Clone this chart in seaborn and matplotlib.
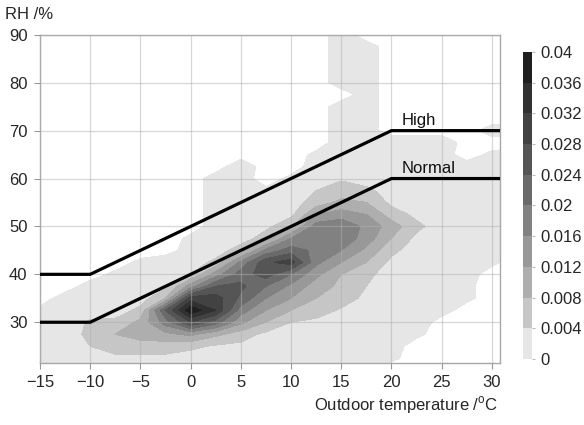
import matplotlib.pyplot as plt
import numpy as np
import pandas as pd
import seaborn as sns
from matplotlib.colors import ListedColormap
from matplotlib.ticker import FuncFormatter

# grid of the density map (outdoor temperature x relative humidity)
TEMPS = [-15, -12.5, -10, -7.5, -5, -2.5, 0, 2.5, 5, 7.5, 10, 12.5, 15, 17.5, 20, 22.5, 25, 27.5, 30, 32.5]
RH_LEVELS = [90, 87.5, 85, 82.5, 80, 77.5, 75, 72.5, 70, 67.5, 65, 62.5, 60, 57.5, 55,
             52.5, 50, 47.5, 45, 42.5, 40, 37.5, 35, 32.5, 30, 27.5, 25, 22.5, 20]

DENSITY_PERMILLE = [
    [0, 0, 0, 0, 0, 0, 0, 0, 0, 0, 0, 0, 2, 0, 0, 0, 0, 0, 0, 0],
    [0, 0, 0, 0, 0, 0, 0, 0, 0, 0, 0, 0, 2, 2, 0, 0, 0, 0, 0, 0],
    [0, 0, 0, 0, 0, 0, 0, 0, 0, 0, 0, 0, 2, 2, 0, 0, 0, 0, 0, 0],
    [0, 0, 0, 0, 0, 0, 0, 0, 0, 0, 0, 0, 2, 2, 0, 0, 0, 0, 0, 0],
    [0, 0, 0, 0, 0, 0, 0, 0, 0, 0, 0, 0, 2, 2, 0, 0, 0, 0, 0, 0],
    [0, 0, 0, 0, 0, 0, 0, 0, 0, 0, 0, 0, 0, 2, 0, 0, 0, 0, 0, 0],
    [0, 0, 0, 0, 0, 0, 0, 0, 0, 0, 0, 0, 2, 2, 0, 0, 0, 0, 0, 0],
    [0, 0, 0, 0, 0, 0, 0, 0, 0, 0, 0, 0, 2, 2, 0, 0, 0, 0, 0, 0],
    [0, 0, 0, 0, 0, 0, 0, 0, 0, 0, 0, 0, 2, 2, 0, 0, 0, 0, 2, 2],
    [0, 0, 0, 0, 0, 0, 0, 0, 0, 0, 0, 0, 2, 2, 3, 3, 3, 0, 0, 0],
    [0, 0, 0, 0, 0, 0, 0, 0, 0, 0, 0, 1, 2, 2, 2, 2, 2, 0, 1, 2],
    [0, 0, 0, 0, 0, 0, 0, 0, 3, 0, 0, 2, 2, 2, 2, 2, 2, 2, 2, 2],
    [0, 0, 0, 0, 0, 0, 0, 2, 2, 0, 1, 3, 3.5, 2, 2, 2, 2, 2, 2, 2],
    [0, 0, 0, 0, 0, 0, 0, 2, 2, 1, 2, 4, 6, 5, 2, 2, 2, 2, 2, 2],
    [0, 0, 0, 0, 0, 0, 0, 2, 2, 2, 2, 6, 9, 8, 3, 2, 2, 2, 2, 2],
    [0, 0, 0, 0, 0, 0, 0, 2, 2, 2, 3, 12, 14, 12, 6, 3, 2, 2, 2, 2],
    [0, 0, 0, 0, 0, 0, 0, 2, 2, 3, 7, 18, 19, 15, 10, 5, 2, 2, 2, 2],
    [0, 0, 0, 0, 0, 0, 1, 2, 2, 6, 16, 20, 19, 14, 8, 3, 2, 2, 2, 2],
    [0, 0, 0, 0, 0, 0, 2, 2, 6, 17, 22, 19, 16, 11, 5, 2, 2, 2, 2, 2],
    [0, 0, 0, 0, 1, 3, 2, 5, 17, 27, 30, 17, 12, 8, 3, 2, 2, 2, 1, 0],
    [0, 0, 0, 1, 2, 2, 4, 14, 22, 26, 20, 13, 8, 5, 2, 2, 2, 2, 0, 0],
    [0, 0, 2, 2, 2, 3, 14, 24, 25, 20, 15, 10, 7, 4, 2, 2, 2, 1, 0, 0],
    [0, 2, 2, 2, 2, 8, 30, 30, 23, 16, 12, 8, 6, 3, 2, 2, 2, 1, 0, 0],
    [1, 2, 2, 2, 5, 24, 39, 32, 18, 12, 8, 6, 3.5, 2, 2, 2, 2, 0, 0, 0],
    [2, 2, 4.5, 5, 9, 18, 28, 22, 13, 8, 4, 3, 2, 2, 2, 3, 0, 0, 0, 0],
    [2, 2, 5, 8, 10, 11, 13, 9, 6, 3, 2, 2, 2, 2, 2, 1, 0, 0, 0, 0],
    [2, 2, 4, 6, 6, 6, 5, 3.5, 3, 2, 2, 2, 2, 2, 2, 0, 0, 0, 0, 0],
    [2, 2, 2, 3, 3, 3, 2, 2, 2, 2, 2, 2, 2, 2, 1, 0, 0, 0, 0, 0],
    [2, 2, 2, 2, 2, 2, 2, 2, 2, 2, 2, 2, 2, 2, 0, 0, 0, 0, 0, 0],
]

# RH limits
LIMIT_TEMPS = [-15, -10, 20, 31]
HIGH_RH = [40, 40, 70, 70]
NORMAL_RH = [30, 30, 60, 60]

LEVELS = np.linspace(0, 0.04, 11)
BAND_GRAYS = ["#e6e6e6", "#c6c6c6", "#aeaeae", "#989898", "#818181",
              "#6a6a6a", "#555555", "#424242", "#313131", "#1f1f1f"]


def main() -> None:
    sns.set_theme(style="white")
    plt.rcParams["font.family"] = ["Liberation Sans", "DejaVu Sans"]
    plt.rcParams["mathtext.fontset"] = "custom"
    plt.rcParams["mathtext.rm"] = "Liberation Sans"

    fig = plt.figure(figsize=(5.84, 4.25), dpi=100)
    ax = fig.add_axes([0.0685, 0.146, 0.7875, 0.772])
    cax = fig.add_axes([0.8955, 0.155, 0.0154, 0.723])

    dens = np.array(DENSITY_PERMILLE, dtype=float)
    # empty cells pushed below 0 so they stay unfilled
    z = np.where(dens > 0, dens, -2.0) / 1000.0
    tt, rr = np.meshgrid(TEMPS, RH_LEVELS)
    cs = ax.contourf(tt, rr, z, levels=LEVELS, cmap=ListedColormap(BAND_GRAYS), zorder=0.5)

    limits = pd.DataFrame({
        "temp": LIMIT_TEMPS * 2,
        "rh": HIGH_RH + NORMAL_RH,
        "limit": ["High"] * 4 + ["Normal"] * 4,
    })
    sns.lineplot(data=limits, x="temp", y="rh", units="limit", estimator=None, sort=False,
                 color="black", linewidth=2.3, legend=False, ax=ax, zorder=4)
    ax.text(21, 71.2, "High", fontsize=12, color="#111111", zorder=5)
    ax.text(21, 61.2, "Normal", fontsize=12, color="#111111", zorder=5)

    ax.set_xlim(-15, 30.8)
    ax.set_ylim(21.5, 90)
    ax.set_xticks(range(-15, 31, 5))
    ax.set_yticks(range(30, 91, 10))
    ax.set_axisbelow(False)
    ax.grid(True, color="#b0b0b0", alpha=0.5, linewidth=0.9)
    for side in ["left", "bottom", "top", "right"]:
        ax.spines[side].set_color("#a8a8a8")
        ax.spines[side].set_linewidth(1.0)
    ax.tick_params(axis="both", which="major", direction="out", length=4, width=0.8,
                   color="#999999", labelsize=12, pad=5, bottom=True, left=True)
    ax.set_xlabel("")
    ax.set_ylabel("")
    fig.text(0.853, 0.047, r"Outdoor temperature /$^\mathregular{o}$C",
             ha="right", va="center", fontsize=12)
    fig.text(0.008, 0.967, "RH /%", ha="left", va="center", fontsize=12)

    cbar = fig.colorbar(cs, cax=cax, ticks=LEVELS)
    cbar.outline.set_visible(False)
    cbar.ax.yaxis.set_major_formatter(FuncFormatter(lambda v, _: f"{round(v, 3):g}"))
    cbar.ax.tick_params(length=2, width=0.8, color="#bbbbbb", labelsize=12, pad=4)

    fig.savefig("out.png", dpi=100)
    plt.close(fig)


if __name__ == "__main__":
    main()
